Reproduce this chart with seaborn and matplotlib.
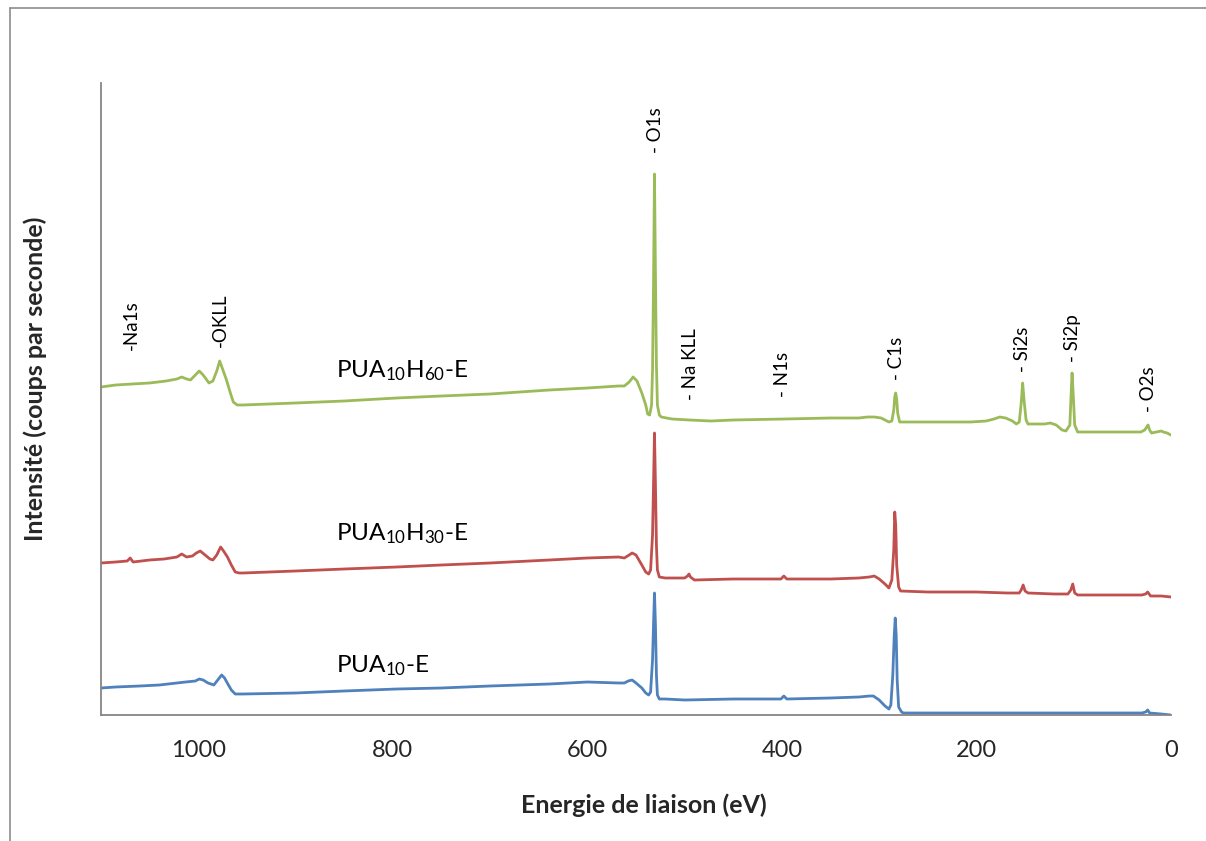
import numpy as np
import pandas as pd
import seaborn as sns
import matplotlib.pyplot as plt
from matplotlib.lines import Line2D
from matplotlib.ticker import MultipleLocator

# ---- data (binding energy in eV, intensity in arbitrary offset units) ----
e_h60 = [1100, 1085, 1068, 1050, 1033, 1022, 1017, 1012, 1008, 1003, 999, 995, 989, 985, 981, 978,
         975, 971, 967, 964, 960, 954, 900, 850, 796, 750, 700, 639, 600, 568, 562, 557, 553, 549,
         544, 540, 538, 536, 534, 533, 532, 531, 530, 529, 528, 526, 524, 513, 495, 473, 450, 397,
         350, 321, 312, 305, 298, 290, 287, 285, 284, 283, 282, 281, 279, 275, 250, 206, 190, 182,
         176, 170, 163, 159, 156, 154, 152.5, 151, 149, 147, 140, 130, 124, 118, 112, 108, 104,
         102.5, 101.7, 100.5, 99, 96, 80, 60, 40, 31, 27, 25, 23.6, 22, 20, 15, 10, 8, 4, 0]
i_h60 = [328, 330, 331, 332, 334, 336, 338, 336, 335, 340, 344, 340, 332, 334, 344, 354,
         346, 335, 322, 313, 310, 310, 312, 314, 317, 319, 321, 325, 327, 329, 329, 333, 338, 334,
         322, 310, 301, 300, 310, 345, 430, 541, 440, 350, 310, 300, 298, 296, 295, 294, 295, 296,
         297, 297, 298, 298, 297, 293, 294, 305, 318, 322, 316, 302, 293, 293, 293, 293, 294, 296,
         298, 297, 294, 291, 293, 312, 332, 314, 295, 291, 291, 291, 292, 290, 285, 284, 290,
         325, 342, 320, 290, 283, 283, 283, 283, 283, 285, 288, 290, 285, 282, 283, 284, 283, 282, 280]

e_h30 = [1100, 1085, 1073, 1070, 1067, 1050, 1035, 1022, 1017, 1012, 1006, 1002, 998, 993, 988, 985,
         981, 977, 974, 970, 966, 962, 958, 954, 900, 850, 796, 750, 700, 639, 600, 568, 562, 557,
         554, 550, 544, 540, 537, 535, 533, 532, 531, 530, 529, 528, 526, 520, 509, 500, 497, 495.5,
         494, 490, 450, 401, 398, 395, 350, 321, 310, 305, 300, 294, 290, 287, 285, 284, 283, 282,
         280, 278, 250, 200, 168, 156, 154, 152, 150, 147, 120, 108, 106, 103, 101, 99, 96, 60,
         30, 26, 24, 21, 10, 0]
i_h30 = [152, 153, 154, 157, 153, 155, 156, 158, 161, 158, 159, 162, 164, 160, 156, 155,
         160, 168, 164, 158, 150, 143, 142, 142, 144, 146, 148, 150, 152, 155, 157, 158, 157, 160,
         162, 160, 150, 143, 141, 145, 180, 230, 282, 230, 170, 145, 138, 137, 137, 137, 139, 141,
         138, 135, 136, 136, 139, 136, 136, 137, 138, 139, 136, 131, 127, 135, 165, 203, 190, 150,
         128, 124, 123, 123, 122, 122, 125, 130, 124, 122, 121, 121, 121, 125, 131, 122, 120, 120,
         120, 121, 123, 119, 119, 118]

e_pua = [1100, 1085, 1060, 1040, 1013, 1003, 999, 995, 990, 984, 980, 976, 973, 969, 966, 962,
         958, 954, 900, 850, 796, 750, 700, 639, 600, 568, 562, 558, 554, 550, 544, 540, 537, 535,
         533, 532, 531, 530, 529, 528, 526, 520, 500, 450, 401, 398, 395, 350, 321, 310, 306, 300,
         294, 290, 288, 286, 284.5, 283.5, 282.5, 281.5, 280, 277, 275, 250, 200, 150, 100, 50,
         30, 26, 24, 22, 10, 0]
i_pua = [27, 28, 29, 30, 33, 34, 36, 35, 32, 30, 35, 40, 37, 30, 25, 21,
         21, 21, 22, 24, 26, 27, 29, 31, 33, 32, 32, 34, 35, 32, 27, 22, 20, 23,
         55, 90, 122, 90, 40, 20, 16, 16, 15, 16, 16, 19, 16, 17, 18, 19, 19, 15,
         9, 6, 10, 40, 80, 97, 80, 35, 8, 3, 2, 2, 2, 2, 2, 2,
         2, 3, 5, 2, 1, 0]

samples = ["PUA10H60-E", "PUA10H30-E", "PUA10-E"]
sample_labels = ["PUA$_{10}$H$_{60}$-E", "PUA$_{10}$H$_{30}$-E", "PUA$_{10}$-E"]
sample_label_x = [858.5, 858.5, 858.5]
sample_label_y = [338, 175, 43]
colors = ["#9BBB59", "#C0504D", "#4F81BD"]

peak_names = ["-Na1s", "-OKLL", "- O1s", "- Na KLL", "- N1s", "- C1s", "- Si2s", "- Si2p", "- O2s"]
peak_x = [1068.7, 977.7, 530, 493.7, 398.9, 282.7, 153, 101.7, 23.6]
peak_y = [365, 368, 562, 315, 318, 335, 343, 353, 303]

df = pd.concat([
    pd.DataFrame({"energie": e_h60, "intensite": i_h60, "echantillon": samples[0]}),
    pd.DataFrame({"energie": e_h30, "intensite": i_h30, "echantillon": samples[1]}),
    pd.DataFrame({"energie": e_pua, "intensite": i_pua, "echantillon": samples[2]}),
], ignore_index=True)

sns.set_style("white")
plt.rcParams['font.family'] = ['Lato', 'DejaVu Sans']
plt.rcParams['mathtext.fontset'] = 'custom'
plt.rcParams['mathtext.rm'] = 'Lato'
plt.rcParams['mathtext.it'] = 'Lato:italic'
plt.rcParams['mathtext.bf'] = 'Lato:bold'

fig = plt.figure(figsize=(12.06, 8.41), dpi=100)
ax = fig.add_axes([101 / 1206, 1 - 715 / 841, 1070 / 1206, 632 / 841])

sns.lineplot(data=df, x="energie", y="intensite", hue="echantillon", palette=dict(zip(samples, colors)),
             sort=False, estimator=None, legend=False, linewidth=2.0, ax=ax)

ax.set_xlim(1100, 0)
ax.set_ylim(0, 632)
ax.xaxis.set_major_locator(MultipleLocator(200))
ax.xaxis.set_minor_locator(MultipleLocator(100))
ax.set_yticks([])
ax.set_xlabel("")
ax.set_ylabel("")
for s in ["top", "right"]:
    ax.spines[s].set_visible(False)
for s in ["left", "bottom"]:
    ax.spines[s].set_color("#868686")
    ax.spines[s].set_linewidth(1.3)
ax.tick_params(axis="x", which="both", direction="out", length=8, width=1.3, color="#868686",
               labelsize=17, pad=10)

for name, x, y in zip(peak_names, peak_x, peak_y):
    ax.text(x, y, name, rotation=90, ha="center", va="bottom", fontsize=13.5, color="black")

for lab, x, y in zip(sample_labels, sample_label_x, sample_label_y):
    ax.text(x, y, lab, ha="left", va="baseline", fontsize=17.5, color="black")

fig.text(644 / 1206, 1 - 812.7 / 841, "Energie de liaison (eV)", ha="center", va="baseline",
         fontsize=18, fontweight="bold")
fig.text(35 / 1206, 1 - 379 / 841, "Intensité (coups par seconde)", rotation=90, ha="center",
         va="center", fontsize=18, fontweight="bold")

# frame of the original chart area
fig.add_artist(Line2D([10 / 1206, 1], [1 - 8 / 841, 1 - 8 / 841], transform=fig.transFigure,
                      color="#8c8c8c", lw=1.2))
fig.add_artist(Line2D([10 / 1206, 10 / 1206], [1 - 8 / 841, 0], transform=fig.transFigure,
                      color="#8c8c8c", lw=1.2))

fig.savefig("out.png", dpi=100)
